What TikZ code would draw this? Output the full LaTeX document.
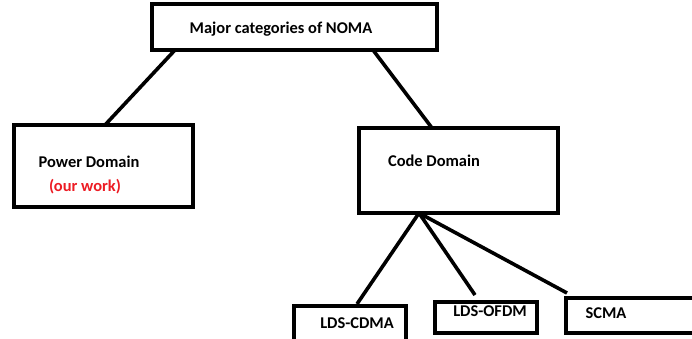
\documentclass[tikz,border=0pt]{standalone}
\usepackage{fontspec}
\setmainfont{Carlito}
\definecolor{ourred}{RGB}{237,28,36}
\tikzset{
  box/.style={draw=black, line width=4bp, inner sep=0pt, outer sep=0pt, fill=white},
  lbl/.style={inner sep=0pt, font=\bfseries\fontsize{16.5}{19}\selectfont, text=black},
  conn/.style={draw=black, line width=3.6bp}
}
\begin{document}
\begin{tikzpicture}[x=1bp,y=-1bp]
\fill[white] (0,0) rectangle (692,338);
\useasboundingbox (0,0) rectangle (692,338);
% boxes
\node[box, minimum width=285bp, minimum height=46bp] (top) at (294.5,27) {};
\node[box, minimum width=179bp, minimum height=82bp] (pow) at (103.5,166) {};
\node[box, minimum width=199bp, minimum height=85bp] (code) at (458.5,170.5) {};
\node[box, minimum width=112bp, minimum height=40bp] (cdma) at (350,326) {};
\node[box, minimum width=102bp, minimum height=31bp] (ofdm) at (486,317.5) {};
\node[box, minimum width=134bp, minimum height=35bp] (scma) at (633,315.5) {};
% labels
\node[lbl] (ttop) at (281,29) {Major categories of NOMA};
\node[lbl] (tpow) at (89,162) {Power Domain};
\node[lbl, text=ourred] (twork) at (85,187) {(our work)};
\node[lbl] (tcode) at (434,161) {Code Domain};
\node[lbl] (tcdma) at (357,323) {LDS-CDMA};
\node[lbl] (tofdm) at (490,311) {LDS-OFDM};
\node[lbl] (tscma) at (606,313) {SCMA};
% connectors
\draw[conn] ([xshift=23bp]top.south west) -- ([xshift=91bp]pow.north west);
\draw[conn] ([xshift=221bp]top.south west) -- ([xshift=73bp]code.north west);
\coordinate (cb) at ([xshift=60bp]code.south west);
\draw[conn] (cb) -- ([xshift=63bp,yshift=2bp]cdma.north west);
\draw[conn] (cb) -- ([xshift=40bp,yshift=7bp]ofdm.north west);
\draw[conn] (cb) -- ([xshift=1bp,yshift=5bp]scma.north west);
\end{tikzpicture}
\end{document}
